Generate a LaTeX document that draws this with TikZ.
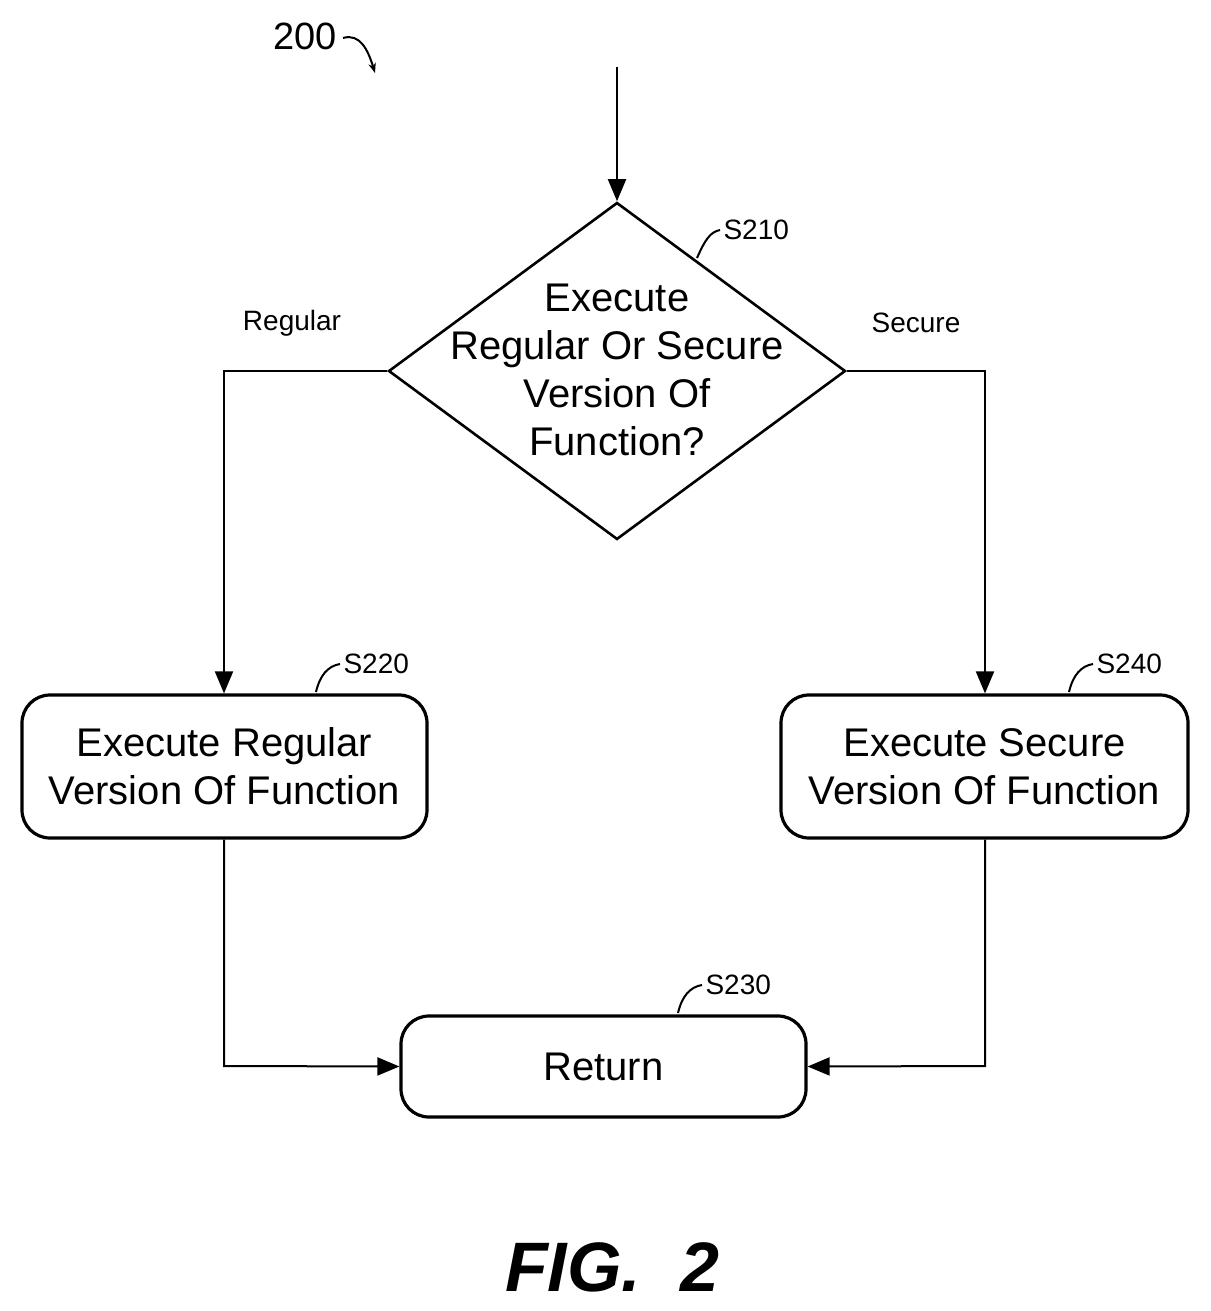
\documentclass[tikz,border=0pt]{standalone}
\usepackage{fontspec}
\setmainfont{Liberation Sans}
\usetikzlibrary{shapes.geometric,arrows.meta}
\begin{document}
\begin{tikzpicture}[x=1pt,y=-1pt,
 box/.style={draw,line width=3.2pt,rounded corners=28pt,inner sep=0},
 ln/.style={line width=2pt},
 ar/.style={ln,-{Triangle[length=22pt,width=18pt]}},
 lab/.style={font=\fontsize{28}{30}\selectfont},
 txt/.style={font=\fontsize{40}{48}\selectfont,align=center}]
\useasboundingbox (0,0) rectangle (1210,1311);
\node[draw,diamond,line width=2.6pt,minimum width=457pt,minimum height=337pt,inner sep=0] (d) at (617,371) {};
\node[txt] at (617,370) {Execute\\Regular Or Secure\\Version Of\\Function?};
\node[box,minimum width=405pt,minimum height=143pt,txt] (a) at (224.5,766.5) {Execute Regular\\Version Of Function};
\node[box,minimum width=407pt,minimum height=143pt,txt] (b) at (984.5,766.5) {Execute Secure\\Version Of Function};
\node[box,minimum width=405pt,minimum height=101pt,txt] (r) at (603.5,1066.5) {Return};
\coordinate (in) at (617,67);
\draw[ar] (in) -- (d.north);
\draw[ar] (d.west) -- (224,371) -- (a.north -| 224,0);
\draw[ar] (d.east) -- (985,371) -- (b.north -| 985,0);
\draw[ar] (a.south -| 224,0) -- (224,1066) -- (r.west);
\draw[ar] (b.south -| 985,0) -- (985,1066) -- (r.east);
\node[lab] (lr) at (292,323) {Regular};
\node[lab] (ls) at (916,323) {Secure};
\node[lab,anchor=west] (l1) at (720,230) {S210};
\draw[ln] (697,258) .. controls (705,240) and (710,232) .. (l1.west);
\node[lab,anchor=west] (l2) at (340,664) {S220};
\draw[ln] (316,692) .. controls (320,675) and (328,666) .. (l2.west);
\node[lab,anchor=west] (l4) at (1093,664) {S240};
\draw[ln] (1069,692) .. controls (1073,675) and (1081,666) .. (l4.west);
\node[lab,anchor=west] (l3) at (702,985) {S230};
\draw[ln] (678,1013) .. controls (682,996) and (690,987) .. (l3.west);
\node[font=\fontsize{38}{40}\selectfont] (n200) at (305,36) {200};
\draw[ln,-{Stealth[length=10pt]}] (343,38) .. controls (360,33) and (368,50) .. (375,73);
\node[font=\fontsize{70}{72}\selectfont\bfseries\itshape] (fig) at (612,1267) {FIG.\ \ 2};
\end{tikzpicture}
\end{document}
